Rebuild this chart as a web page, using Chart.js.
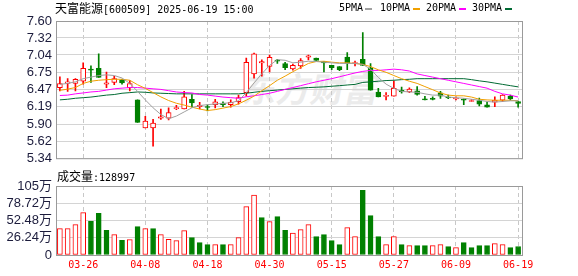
<!DOCTYPE html>
<html>
<head>
<meta charset="utf-8">
<title>天富能源</title>
<script src="https://cdn.jsdelivr.net/npm/chart.js@4.4.1/dist/chart.umd.min.js"></script>
<style>
body { margin: 0; background: #fff; }
#wrap { position: relative; width: 578px; height: 276px; overflow: hidden; font-family: "DejaVu Sans Mono", "Noto Sans CJK SC", monospace; color: #000; }
#wrap canvas { position: absolute; left: 0; z-index: 1; }
.txt { position: absolute; font-size: 10px; line-height: 12px; white-space: pre; z-index: 2; }
.cjk { font-family: "Noto Sans CJK SC", sans-serif; font-size: 12px; }
.mk { position: absolute; top: 8px; width: 7px; height: 2px; z-index: 2; }
#wm { position: absolute; left: 244px; top: 70px; font: bold 34px "Noto Sans CJK SC", sans-serif; line-height: 36px; color: #ebebeb; transform: skewX(-12deg); z-index: 0; white-space: pre; }
</style>
</head>
<body>
<div id="wrap">
  <div id="wm">东方财富</div>
  <div class="txt" style="left:55px;top:2px"><span class="cjk">天富能源</span>[600509] 2025-06-19 15:00</div>
  <div class="txt" style="left:339px;top:2px">5PMA</div><div class="mk" style="left:365px;background:#a0a0a0"></div>
  <div class="txt" style="left:380px;top:2px">10PMA</div><div class="mk" style="left:413px;background:#f0a000"></div>
  <div class="txt" style="left:426px;top:2px">20PMA</div><div class="mk" style="left:459px;background:#ff00ff"></div>
  <div class="txt" style="left:472px;top:2px">30PMA</div><div class="mk" style="left:505px;background:#006a33"></div>
  <div class="txt" style="left:57px;top:170px"><span class="cjk">成交量</span>:128997</div>
  <canvas id="price" width="578" height="170" style="top:0"></canvas>
  <canvas id="vol" width="578" height="106" style="top:170px"></canvas>
</div>
<script>
// 日期 (03-21 ~ 06-19)
var dates = ['03-21','03-24','03-25','03-26','03-27','03-28','03-31','04-01','04-02','04-03',
  '04-07','04-08','04-09','04-10','04-11','04-14','04-15','04-16','04-17','04-18',
  '04-21','04-22','04-23','04-24','04-25','04-28','04-29','04-30','05-06','05-07',
  '05-08','05-09','05-12','05-13','05-14','05-15','05-16','05-19','05-20','05-21',
  '05-22','05-23','05-26','05-27','05-28','05-29','05-30','06-03','06-04','06-05',
  '06-06','06-09','06-10','06-11','06-12','06-13','06-16','06-17','06-18','06-19'];
var tickDates = ['03-26','04-08','04-18','04-30','05-15','05-27','06-09','06-19'];

// K线
var opens  = [6.50,6.57,6.57,6.61,6.81,6.82,6.56,6.59,6.63,6.50,
  6.30,5.84,5.84,6.00,6.00,6.155,6.15,6.31,6.19,6.19,
  6.22,6.25,6.22,6.27,6.42,6.73,6.91,6.85,6.955,6.90,
  6.81,6.86,7.005,6.99,6.93,6.87,6.85,7.005,6.90,6.97,
  6.83,6.43,6.358,6.36,6.46,6.43,6.45,6.316,6.326,6.415,
  6.347,6.316,6.31,6.274,6.29,6.22,6.264,6.295,6.363,6.274];
var closes = [6.57,6.60,6.64,6.82,6.79,6.67,6.58,6.65,6.58,6.57,
  5.93,5.95,5.92,6.02,6.09,6.175,6.35,6.25,6.21,6.175,
  6.27,6.22,6.26,6.34,6.92,7.06,6.93,7.00,6.94,6.83,
  6.87,6.95,7.025,6.95,6.91,6.83,6.80,6.90,6.915,6.87,
  6.46,6.35,6.375,6.49,6.43,6.48,6.39,6.30,6.31,6.363,
  6.331,6.332,6.295,6.29,6.23,6.18,6.295,6.378,6.316,6.243];
var highs  = [6.68,6.65,6.65,6.91,6.86,7.06,6.76,6.69,6.64,6.62,
  6.30,6.03,5.98,6.15,6.17,6.21,6.44,6.39,6.26,6.22,
  6.31,6.27,6.30,6.38,6.99,7.07,6.96,7.04,6.97,6.92,
  6.89,6.98,7.04,6.99,6.93,6.87,6.85,7.08,6.94,7.41,
  6.90,6.49,6.42,6.61,6.51,6.50,6.52,6.36,6.35,6.44,
  6.38,6.35,6.316,6.305,6.33,6.26,6.35,6.39,6.38,6.274];
var lows   = [6.45,6.44,6.45,6.56,6.59,6.67,6.50,6.55,6.56,6.45,
  5.93,5.84,5.54,5.98,5.97,6.14,6.15,6.18,6.15,6.12,
  6.17,6.19,6.18,6.23,6.36,6.66,6.69,6.76,6.90,6.80,
  6.79,6.82,6.96,6.95,6.76,6.80,6.78,6.80,6.86,6.87,
  6.46,6.35,6.30,6.36,6.41,6.42,6.38,6.30,6.30,6.326,
  6.32,6.30,6.22,6.274,6.20,6.18,6.19,6.274,6.295,6.18];

// 均线
var ma5  = [6.556,6.572,6.598,6.650,6.676,6.702,6.713,6.702,6.661,6.572,
  6.44,6.30,6.17,6.06,5.99,6.034,6.102,6.170,6.207,6.222,
  6.233,6.243,6.254,6.285,6.42,6.58,6.73,6.869,6.963,6.953,
  6.911,6.922,6.937,6.932,6.922,6.911,6.901,6.901,6.901,6.885,
  6.807,6.67,6.56,6.49,6.441,6.431,6.426,6.400,6.379,6.379,
  6.347,6.337,6.327,6.311,6.295,6.274,6.264,6.274,6.285,6.285];
var ma10 = [6.457,6.478,6.504,6.572,6.608,6.624,6.634,6.640,6.640,6.624,
  6.55,6.49,6.42,6.35,6.29,6.245,6.215,6.18,6.15,6.125,
  6.14,6.165,6.19,6.235,6.295,6.363,6.452,6.535,6.624,6.692,
  6.765,6.833,6.901,6.932,6.937,6.922,6.911,6.911,6.901,6.885,
  6.849,6.796,6.755,6.702,6.650,6.608,6.572,6.520,6.468,6.415,
  6.379,6.368,6.368,6.347,6.311,6.300,6.295,6.295,6.295,6.285];
var ma20 = [6.373,6.379,6.400,6.415,6.431,6.441,6.462,6.483,6.494,6.504,
  6.504,6.494,6.483,6.473,6.452,6.431,6.421,6.415,6.389,6.379,
  6.363,6.347,6.337,6.327,6.352,6.368,6.389,6.410,6.441,6.473,
  6.504,6.535,6.567,6.598,6.624,6.650,6.681,6.713,6.744,6.770,
  6.786,6.786,6.796,6.807,6.796,6.776,6.728,6.702,6.676,6.650,
  6.624,6.598,6.572,6.546,6.520,6.494,6.441,6.400,6.379,6.347];
var ma30 = [6.301,6.311,6.327,6.337,6.347,6.363,6.379,6.389,6.410,6.420,
  6.431,6.426,6.415,6.410,6.405,6.400,6.400,6.400,6.400,6.400,
  6.400,6.400,6.400,6.400,6.410,6.426,6.441,6.452,6.462,6.473,
  6.483,6.494,6.504,6.509,6.515,6.525,6.535,6.546,6.556,6.588,
  6.598,6.608,6.619,6.624,6.634,6.640,6.650,6.650,6.650,6.650,
  6.650,6.650,6.650,6.634,6.614,6.598,6.577,6.556,6.535,6.515];

// 成交量(万手), 1 = 红
var vols = [40.1,40.1,46.2,64.4,51.2,63.4,37.5,30.9,22.3,23.3,
  43.1,40.1,40.1,30.9,23.8,21.8,37.0,26.4,18.8,15.7,
  15.7,15.7,15.7,26.4,73.5,91.3,56.8,50.7,58.3,37.5,
  33.5,38.5,46.2,27.9,30.9,21.8,15.7,41.6,27.9,98.4,
  59.9,27.9,15.7,27.9,15.7,14.2,14.2,14.2,14.2,15.7,
  12.7,11.2,18.8,11.2,14.2,14.2,17.2,15.7,11.2,12.9];
var volUp = [1,1,1,1,0,0,0,1,0,1, 0,1,0,1,1,1,1,0,0,0, 1,0,1,1,1,1,0,1,0,0,
  1,1,1,0,0,0,0,1,1,0, 0,0,1,1,0,1,0,0,1,1, 0,1,0,0,0,0,1,1,0,0];

var priceTicks = [5.34,5.62,5.90,6.19,6.47,6.75,7.04,7.32,7.60];
var volTicks = [0,26.24,52.48,78.72,104.96];
var volTickLabels = ['0','26.24万','52.48万','78.72万','105万'];

var RED = '#ff0000', GREEN = '#008000';
var up = closes.map(function (c, i) { return c >= opens[i]; });

Chart.defaults.animation = false;
Chart.defaults.font.family = '"Liberation Sans", "Noto Sans CJK SC", sans-serif';

// 边框
var frame = {
  id: 'frame',
  afterDraw: function (chart) {
    var a = chart.chartArea, c = chart.ctx;
    c.save();
    c.strokeStyle = '#9a9a9a';
    c.lineWidth = 1;
    c.strokeRect(a.left + 0.5, a.top + 0.5, a.right - a.left, a.bottom - a.top);
    c.restore();
  }
};

function vGrid(c) {
  return tickDates.indexOf(dates[c.index]) >= 0 ? '#c8c8c8' : 'rgba(0,0,0,0)';
}

function xAxis(showLabels, h) {
  return {
    offset: true,
    ticks: {
      display: showLabels, autoSkip: false, maxRotation: 0, minRotation: 0, padding: 4,
      color: RED, font: { family: '"DejaVu Sans Mono", monospace', size: 10 },
      callback: function (v, i) { return tickDates.indexOf(dates[i]) >= 0 ? dates[i] : ''; }
    },
    grid: { offset: false, drawTicks: false, color: vGrid },
    border: { display: false, dash: [4, 3] },
    afterFit: function (s) { s.height = h; }
  };
}

function yAxis(min, max, ticks, label) {
  return {
    min: min, max: max,
    afterBuildTicks: function (s) { s.ticks = ticks.map(function (v) { return { value: v }; }); },
    ticks: { autoSkip: false, padding: 4, color: '#1c1c3c', font: { size: 13 }, callback: label },
    grid: { drawTicks: false, color: '#d4d4d4' },
    border: { display: false },
    afterFit: function (s) { s.width = 56; }
  };
}

function lineSet(label, data, color) {
  return { type: 'line', label: label, data: data, borderColor: color, borderWidth: 1,
    pointRadius: 0, tension: 0, order: 0 };
}

new Chart(document.getElementById('price'), {
  type: 'bar',
  data: {
    labels: dates,
    datasets: [
      lineSet('5PMA', ma5, '#a0a0a0'),
      lineSet('10PMA', ma10, '#f0a000'),
      lineSet('20PMA', ma20, '#ff00ff'),
      lineSet('30PMA', ma30, '#006a33'),
      {
        label: 'body',
        data: opens.map(function (o, i) { return [o, closes[i]]; }),
        backgroundColor: up.map(function (u) { return u ? '#ffffff' : GREEN; }),
        borderColor: up.map(function (u) { return u ? RED : GREEN; }),
        borderWidth: 1, borderSkipped: false, barThickness: 5, grouped: false, order: 1
      },
      {
        label: 'wick',
        data: lows.map(function (l, i) { return [l, highs[i]]; }),
        backgroundColor: up.map(function (u) { return u ? RED : GREEN; }),
        barThickness: 1, grouped: false, order: 2
      }
    ]
  },
  options: {
    responsive: false,
    layout: { padding: { left: 0, right: 56, top: 21, bottom: 6 } },
    plugins: { legend: { display: false }, tooltip: { enabled: false } },
    scales: {
      x: xAxis(false, 0),
      y: yAxis(5.34, 7.60, priceTicks, function (v) { return v.toFixed(2); })
    }
  },
  plugins: [frame]
});

new Chart(document.getElementById('vol'), {
  type: 'bar',
  data: {
    labels: dates,
    datasets: [{
      label: '成交量',
      data: vols,
      backgroundColor: volUp.map(function (u) { return u ? '#ffffff' : GREEN; }),
      borderColor: volUp.map(function (u) { return u ? RED : GREEN; }),
      borderWidth: 1, borderSkipped: false, barThickness: 5
    }]
  },
  options: {
    responsive: false,
    layout: { padding: { left: 0, right: 56, top: 16, bottom: 0 } },
    plugins: { legend: { display: false }, tooltip: { enabled: false } },
    scales: {
      x: xAxis(true, 21),
      y: yAxis(0, 104.96, volTicks, function (v, i) { return volTickLabels[i]; })
    }
  },
  plugins: [frame]
});
</script>
</body>
</html>
